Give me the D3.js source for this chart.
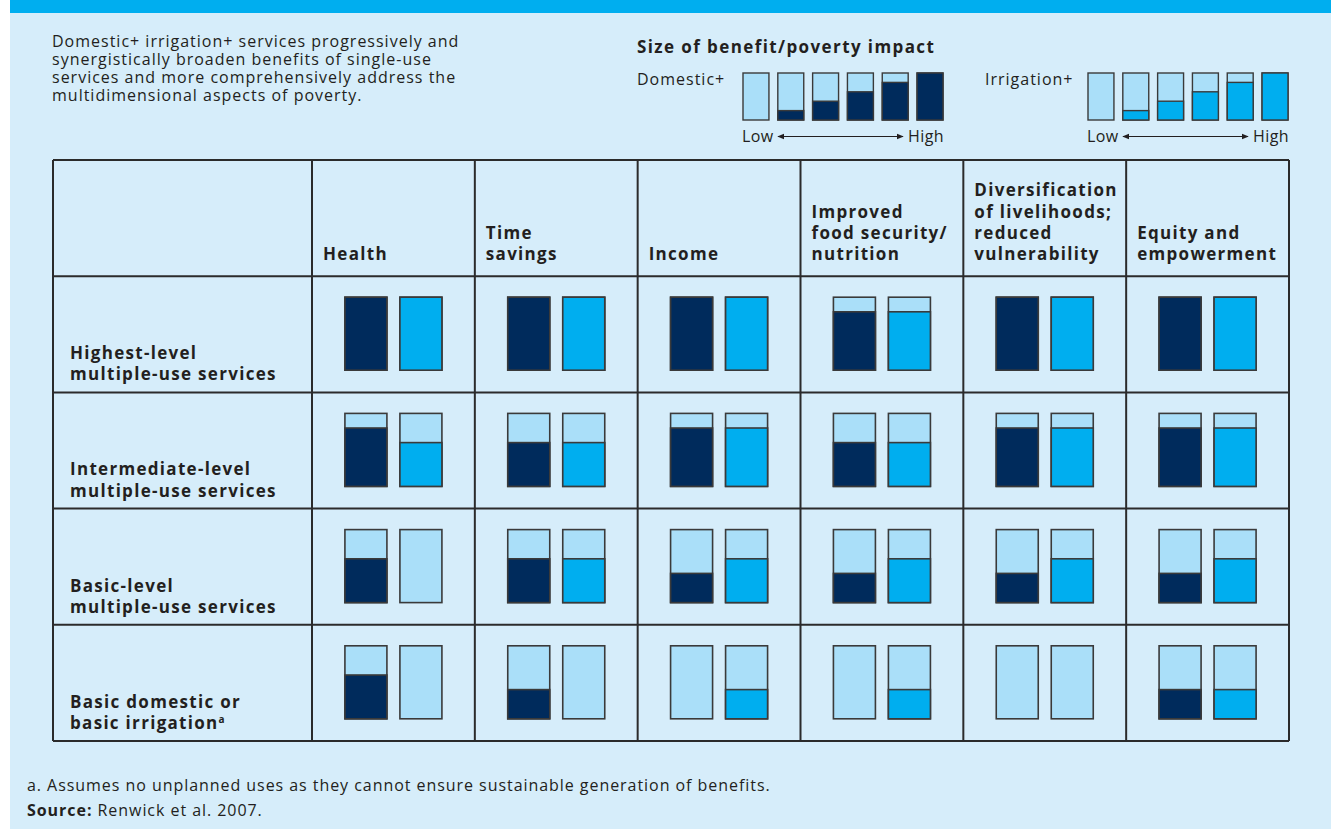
<!DOCTYPE html>
<html><head><meta charset="utf-8">
<script src="https://cdn.jsdelivr.net/npm/d3@7"></script>
<style>
html,body{margin:0;padding:0;background:#fff;}
svg{display:block;}
</style></head>
<body>
<svg id="chart" width="1331" height="829"></svg>
<script>
// ---------- DATA ----------
const columnLabels = [
  ["Health"],
  ["Time", "savings"],
  ["Income"],
  ["Improved", "food security/", "nutrition"],
  ["Diversification", "of livelihoods;", "reduced", "vulnerability"],
  ["Equity and", "empowerment"]
];
const rowLabels = [
  ["Highest-level", "multiple-use services"],
  ["Intermediate-level", "multiple-use services"],
  ["Basic-level", "multiple-use services"],
  ["Basic domestic or", "basic irrigation"]
];
// benefit level 0 (low) .. 5 (high)
const domesticLevels = [
  [5, 5, 5, 4, 5, 5],
  [4, 3, 4, 3, 4, 4],
  [3, 3, 2, 2, 2, 2],
  [3, 2, 0, 0, 0, 2]
];
const irrigationLevels = [
  [5, 5, 5, 4, 5, 5],
  [3, 3, 4, 3, 4, 4],
  [0, 3, 3, 3, 3, 3],
  [0, 0, 2, 2, 0, 2]
];
const legendLevels = [0, 1, 2, 3, 4, 5];
const seriesNames = ["Domestic+", "Irrigation+"];
const introLines = [
  "Domestic+ irrigation+ services progressively and",
  "synergistically broaden benefits of single-use",
  "services and more comprehensively address the",
  "multidimensional aspects of poverty."
];
const legendTitle = "Size of benefit/poverty impact";
const footnote = "a. Assumes no unplanned uses as they cannot ensure sustainable generation of benefits.";
const sourceLabel = "Source:";
const sourceText = " Renwick et al. 2007.";

// ---------- STYLE ----------
const C = {
  bg: "#d6edfa", banner: "#00aeef", navy: "#002b5c", blue: "#00aeef",
  light: "#aadff9", text: "#231f20", line: "#2b2b2b", barStroke: "#3a3a3a"
};
const FONT = "'Open Sans', sans-serif";
const REG = { size: 16, ls: 1.0 };
const BOLD = { size: 17, ls: 1.3 };

const svg = d3.select("#chart");
svg.append("rect").attr("x", 10).attr("y", 0).attr("width", 1321).attr("height", 829).attr("fill", C.bg);
svg.append("rect").attr("x", 10).attr("y", 0).attr("width", 1321).attr("height", 13).attr("fill", C.banner);

function regText(sel, size, ls) {
  return sel.append("text").attr("font-family", FONT).attr("font-size", size || REG.size)
    .attr("letter-spacing", ls == null ? REG.ls : ls).attr("fill", C.text);
}
function boldText(sel, size, ls) {
  return sel.append("text").attr("font-family", FONT).attr("font-weight", 700)
    .attr("font-size", size || BOLD.size).attr("letter-spacing", ls == null ? BOLD.ls : ls).attr("fill", C.text);
}

// intro
const intro = regText(svg);
introLines.forEach((l, i) => intro.append("tspan").attr("x", 52).attr("y", 47 + i * 18).text(l));

// ---------- TABLE ----------
const tableLeft = 53, firstColRight = 312, tableRight = 1289, tableTop = 160, tableBottom = 741;
const x = d3.scaleBand().domain(d3.range(columnLabels.length)).range([firstColRight, tableRight]);
const y = d3.scaleBand().domain(d3.range(-1, rowLabels.length)).range([tableTop, tableBottom]);
const barW = 42, barGap = 13, barH = 73, barTop = 21;
const fillScale = d3.scaleLinear().domain([0, 5]).range([0, barH]);

const g = svg.append("g");
const hLines = [tableTop, ...d3.range(rowLabels.length).map(i => y(i)), tableBottom];
g.selectAll("line.h").data(hLines).join("line")
  .attr("x1", tableLeft).attr("x2", tableRight).attr("y1", d => d).attr("y2", d => d)
  .attr("stroke", C.line).attr("stroke-width", 2);
const vLines = [tableLeft, ...d3.range(columnLabels.length).map(i => x(i)), tableRight];
g.selectAll("line.v").data(vLines).join("line")
  .attr("y1", tableTop).attr("y2", tableBottom).attr("x1", d => d).attr("x2", d => d)
  .attr("stroke", C.line).attr("stroke-width", 2);

// column headers
columnLabels.forEach((lines, ci) => {
  const t = boldText(g);
  const n = lines.length;
  lines.forEach((l, li) => t.append("tspan").attr("x", x(ci) + 11)
    .attr("y", y(-1) + y.bandwidth() - 16 - (n - 1 - li) * 21.3).text(l));
});
// row labels
rowLabels.forEach((lines, ri) => {
  const t = boldText(g);
  const n = lines.length;
  lines.forEach((l, li) => {
    t.append("tspan").attr("x", 70)
      .attr("y", y(ri) + y.bandwidth() - 12 - (n - 1 - li) * 21.3).text(l);
  });
  if (ri === rowLabels.length - 1) {
    t.append("tspan").attr("font-size", 10).attr("dy", -6).text("a");
  }
});

function drawBar(sel, bx, by, w, h, level, color) {
  sel.append("rect").attr("x", bx).attr("y", by).attr("width", w).attr("height", h)
    .attr("fill", C.light).attr("stroke", C.barStroke).attr("stroke-width", 1.6);
  const fh = (h / barH) * fillScale(level);
  if (level > 0) {
    sel.append("rect").attr("x", bx).attr("y", by + h - fh).attr("width", w).attr("height", fh)
      .attr("fill", color).attr("stroke", C.barStroke).attr("stroke-width", 1.6);
  }
}

rowLabels.forEach((_, ri) => {
  columnLabels.forEach((_, ci) => {
    const cx = x(ci) + x.bandwidth() / 2;
    const top = y(ri) + barTop;
    drawBar(g, cx - barGap / 2 - barW, top, barW, barH, domesticLevels[ri][ci], C.navy);
    drawBar(g, cx + barGap / 2, top, barW, barH, irrigationLevels[ri][ci], C.blue);
  });
});

// ---------- LEGEND ----------
boldText(svg, 17, 1.4).attr("x", 637).attr("y", 53).text(legendTitle);
const legendStarts = [743, 1088];
const legendLabelX = [637, 985];
const legendColors = [C.navy, C.blue];
const lx = d3.scaleBand().domain(legendLevels).range([0, 200]).paddingInner(0.255).paddingOuter(0);
const legendBarH = 47, legendTop = 73;
const lFill = d3.scaleLinear().domain([0, 5]).range([0, legendBarH]);
const defs = svg.append("defs");
["s", "e"].forEach(id => {
  defs.append("marker").attr("id", "arr-" + id).attr("viewBox", "0 0 10 10").attr("refX", 9).attr("refY", 5)
    .attr("markerWidth", 6).attr("markerHeight", 6).attr("orient", "auto-start-reverse")
    .append("path").attr("d", "M0,1 L10,5 L0,9 Z").attr("fill", C.text);
});
seriesNames.forEach((name, si) => {
  regText(svg).attr("x", legendLabelX[si]).attr("y", 85).text(name);
  const x0 = legendStarts[si];
  legendLevels.forEach(lv => {
    const bx = x0 + lx(lv);
    const w = lx.bandwidth();
    svg.append("rect").attr("x", bx).attr("y", legendTop).attr("width", w).attr("height", legendBarH)
      .attr("fill", C.light).attr("stroke", C.barStroke).attr("stroke-width", 1.4);
    if (lv > 0) {
      const fh = lFill(lv);
      svg.append("rect").attr("x", bx).attr("y", legendTop + legendBarH - fh).attr("width", w).attr("height", fh)
        .attr("fill", legendColors[si]).attr("stroke", C.barStroke).attr("stroke-width", 1.4);
    }
  });
  regText(svg, 16, 0.4).attr("x", x0 - 1).attr("y", 142).text("Low");
  regText(svg, 16, 0.4).attr("x", x0 + 201).attr("y", 142).attr("text-anchor", "end").text("High");
  svg.append("line").attr("x1", x0 + 35).attr("x2", x0 + 160).attr("y1", 136.5).attr("y2", 136.5)
    .attr("stroke", C.text).attr("stroke-width", 1.2)
    .attr("marker-start", "url(#arr-s)").attr("marker-end", "url(#arr-e)");
});

// ---------- FOOTNOTES ----------
regText(svg, 16, 0.95).attr("x", 27).attr("y", 791).text(footnote);
const src = regText(svg, 16, 0.95).attr("x", 27).attr("y", 816);
src.append("tspan").attr("font-weight", 700).text(sourceLabel);
src.append("tspan").text(sourceText);
</script>
</body></html>
